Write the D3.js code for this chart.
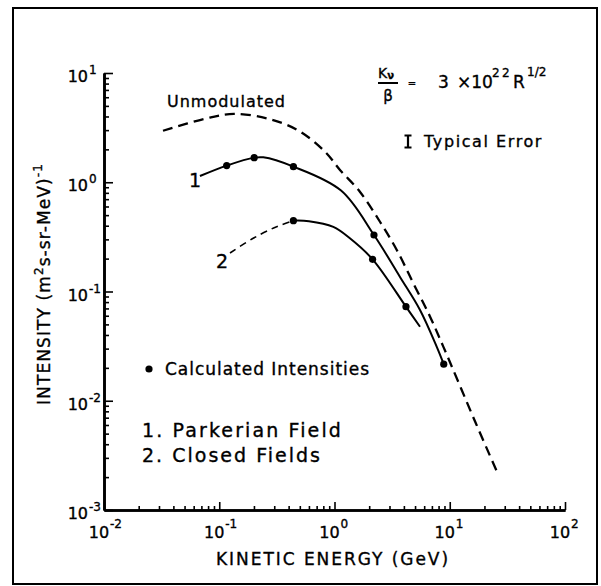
<!DOCTYPE html>
<html>
<head>
<meta charset="utf-8">
<script src="https://cdn.jsdelivr.net/npm/d3@7"></script>
<style>
  body { margin: 0; background: #fff; }
  text { font-family: "DejaVu Sans", sans-serif; fill: #000; stroke: #000; stroke-width: 0.35; }
</style>
</head>
<body>
<div id="chart"></div>
<script>
// decades and tick labels
const xDecades = [0.01, 0.1, 1, 10, 100];
const xExps = ['-2', '-1', '0', '1', '2'];
const yDecades = [0.001, 0.01, 0.1, 1, 10];
const yExps = ['-3', '-2', '-1', '0', '1'];

// unmodulated spectrum (dashed)
const unmodE = [0.0325, 0.078, 0.134, 0.267, 0.49, 0.827, 1.12, 1.66, 2.48, 3.47, 4.83, 6.75, 8.79, 16.7, 26.4];
const unmodI = [2.96, 3.85, 4.22, 3.81, 2.96, 1.905, 1.29, 0.82, 0.435, 0.24, 0.119, 0.0588, 0.0313, 0.00635, 0.0021];

// 1. Parkerian field
const parkerE = [0.068, 0.116, 0.201, 0.241, 0.44, 1.14, 2.2, 3.7, 5.52, 7.7, 8.87];
const parkerI = [1.14, 1.42, 1.68, 1.69, 1.39, 0.84, 0.329, 0.136, 0.0678, 0.0313, 0.0216];

// 2. Closed fields (dashed low-energy part, then solid)
const closedDashE = [0.124, 0.197, 0.315, 0.44];
const closedDashI = [0.225, 0.307, 0.392, 0.445];
const closedE = [0.44, 0.6, 0.977, 1.36, 2.14, 4.17, 5.52];
const closedI = [0.445, 0.44, 0.39, 0.307, 0.197, 0.0726, 0.0476];

// calculated intensities
const parkerDotE = [0.116, 0.201, 0.44, 2.2, 8.87];
const parkerDotI = [1.42, 1.68, 1.39, 0.329, 0.0216];
const closedDotE = [0.44, 2.14, 4.17];
const closedDotI = [0.445, 0.197, 0.0726];

const w = 601;
const h = 586;

const svg = d3.select('#chart')
  .append('svg')
  .attr('width', w)
  .attr('height', h);

svg.append('rect')
  .attr('x', 13).attr('y', 8)
  .attr('width', 584).attr('height', 576)
  .attr('fill', 'none')
  .attr('stroke', '#000')
  .attr('stroke-width', 2);

const x = d3.scaleLog().domain([0.01, 100]).range([104, 565]);
const y = d3.scaleLog().domain([0.001, 10]).range([510, 73]);

const minor = decs => decs.slice(0, -1).flatMap(d => d3.range(2, 10).map(k => d * k));

// fit a text to a width by letter spacing
function fit(sel, width) {
  const n = sel.node();
  const len = n.getComputedTextLength();
  const count = n.textContent.length;
  sel.attr('letter-spacing', (width - len) / count);
}

// axes
const axisStyle = g => {
  g.select('.domain').attr('stroke-width', 2.6);
  g.selectAll('.tick line').attr('stroke-width', 1.6);
};

svg.append('g')
  .attr('transform', 'translate(0,510)')
  .call(d3.axisBottom(x).tickValues(minor(xDecades)).tickSize(-4).tickSizeOuter(0).tickFormat(''))
  .call(axisStyle);
svg.append('g')
  .attr('transform', 'translate(0,510)')
  .call(d3.axisBottom(x).tickValues(xDecades).tickSize(-8).tickSizeOuter(0).tickFormat(''))
  .call(axisStyle);

svg.append('g')
  .attr('transform', 'translate(104,0)')
  .call(d3.axisLeft(y).tickValues(minor(yDecades)).tickSize(-5).tickSizeOuter(0).tickFormat(''))
  .call(axisStyle);
svg.append('g')
  .attr('transform', 'translate(104,0)')
  .call(d3.axisLeft(y).tickValues(yDecades).tickSize(-9).tickSizeOuter(0).tickFormat(''))
  .call(axisStyle);

// tick labels
xDecades.forEach((d, i) => {
  svg.append('text')
    .attr('x', x(d) - 5).attr('y', 538)
    .attr('text-anchor', 'middle')
    .attr('font-size', 16)
    .text('10');
  svg.append('text')
    .attr('x', x(d) + 6).attr('y', 528)
    .attr('font-size', 12)
    .text(xExps[i]);
});

yDecades.forEach((d, i) => {
  svg.append('text')
    .attr('x', 88).attr('y', y(d) + 9)
    .attr('text-anchor', 'end')
    .attr('font-size', 16)
    .text('10');
  svg.append('text')
    .attr('x', 89).attr('y', y(d) + 1)
    .attr('font-size', 12)
    .text(yExps[i]);
});

// axis titles
const xt = svg.append('text')
  .attr('x', 216).attr('y', 565)
  .attr('font-size', 17)
  .text('KINETIC ENERGY (GeV)');
fit(xt, 234);

const yt = svg.append('text')
  .attr('transform', 'translate(50,405) rotate(-90)')
  .attr('font-size', 17);
yt.append('tspan').text('INTENSITY (m');
yt.append('tspan').attr('font-size', 12).attr('dy', -7).text('2');
yt.append('tspan').attr('dy', 7).text('s-sr-MeV)');
yt.append('tspan').attr('font-size', 12).attr('dy', -8).text('-1');
fit(yt, 242);

// curves
const pts = (es, is) => es.map((e, i) => [e, is[i]]);
const line = d3.line()
  .x(d => x(d[0]))
  .y(d => y(d[1]))
  .curve(d3.curveCatmullRom.alpha(0.5));

svg.append('path')
  .attr('d', line(pts(unmodE, unmodI)))
  .attr('fill', 'none')
  .attr('stroke', '#000')
  .attr('stroke-width', 2.3)
  .attr('stroke-dasharray', '10,6');

svg.append('path')
  .attr('d', line(pts(parkerE, parkerI)))
  .attr('fill', 'none')
  .attr('stroke', '#000')
  .attr('stroke-width', 2);

svg.append('path')
  .attr('d', line(pts(closedDashE, closedDashI)))
  .attr('fill', 'none')
  .attr('stroke', '#000')
  .attr('stroke-width', 1.6)
  .attr('stroke-dasharray', '7,5');

svg.append('path')
  .attr('d', line(pts(closedE, closedI)))
  .attr('fill', 'none')
  .attr('stroke', '#000')
  .attr('stroke-width', 2);

svg.selectAll('circle.dot')
  .data(pts(parkerDotE, parkerDotI).concat(pts(closedDotE, closedDotI)))
  .enter()
  .append('circle')
  .attr('class', 'dot')
  .attr('cx', d => x(d[0]))
  .attr('cy', d => y(d[1]))
  .attr('r', 3.6)
  .attr('fill', '#000');

// curve labels
svg.append('text').attr('x', 189).attr('y', 187).attr('font-size', 19).text('1');
svg.append('text').attr('x', 216).attr('y', 268).attr('font-size', 19).text('2');

const um = svg.append('text')
  .attr('x', 167).attr('y', 107)
  .attr('font-size', 16)
  .text('Unmodulated');
fit(um, 119);

// formula
const kn = svg.append('text').attr('x', 378).attr('y', 78).attr('font-size', 14);
kn.append('tspan').text('K');
kn.append('tspan').attr('font-size', 10).attr('font-weight', 'bold').attr('dy', 1).text('ν');
svg.append('line')
  .attr('x1', 378).attr('x2', 398)
  .attr('y1', 83).attr('y2', 83)
  .attr('stroke', '#000').attr('stroke-width', 2);
svg.append('text').attr('x', 388).attr('y', 101).attr('text-anchor', 'middle').attr('font-size', 15).text('β');
svg.append('text').attr('x', 412).attr('y', 87).attr('text-anchor', 'middle').attr('font-size', 10).text('=');
svg.append('text').attr('x', 438).attr('y', 88).attr('font-size', 17).text('3');
svg.append('text').attr('x', 457).attr('y', 88).attr('font-size', 17).text('×10');
const e22 = svg.append('text').attr('x', 492).attr('y', 77).attr('font-size', 12).text('22');
fit(e22, 20);
svg.append('text').attr('x', 513).attr('y', 88).attr('font-size', 17).text('R');
svg.append('text').attr('x', 527).attr('y', 76).attr('font-size', 12).text('1/2');

// typical error
svg.append('path')
  .attr('d', 'M404.5,135.5H411.5M408,135.5V147.5M404.5,147.5H411.5')
  .attr('fill', 'none')
  .attr('stroke', '#000')
  .attr('stroke-width', 2.2);
const te = svg.append('text')
  .attr('x', 424).attr('y', 147)
  .attr('font-size', 16)
  .text('Typical Error');
fit(te, 119);

// legend
svg.append('circle').attr('cx', 149).attr('cy', 369).attr('r', 3.6).attr('fill', '#000');
const ci = svg.append('text')
  .attr('x', 165).attr('y', 375)
  .attr('font-size', 17)
  .text('Calculated Intensities');
fit(ci, 205);

const p1 = svg.append('text')
  .attr('x', 142).attr('y', 437)
  .attr('font-size', 19)
  .text('1. Parkerian Field');
fit(p1, 201);

const p2 = svg.append('text')
  .attr('x', 142).attr('y', 462)
  .attr('font-size', 19)
  .text('2. Closed Fields');
fit(p2, 180);
</script>
</body>
</html>
